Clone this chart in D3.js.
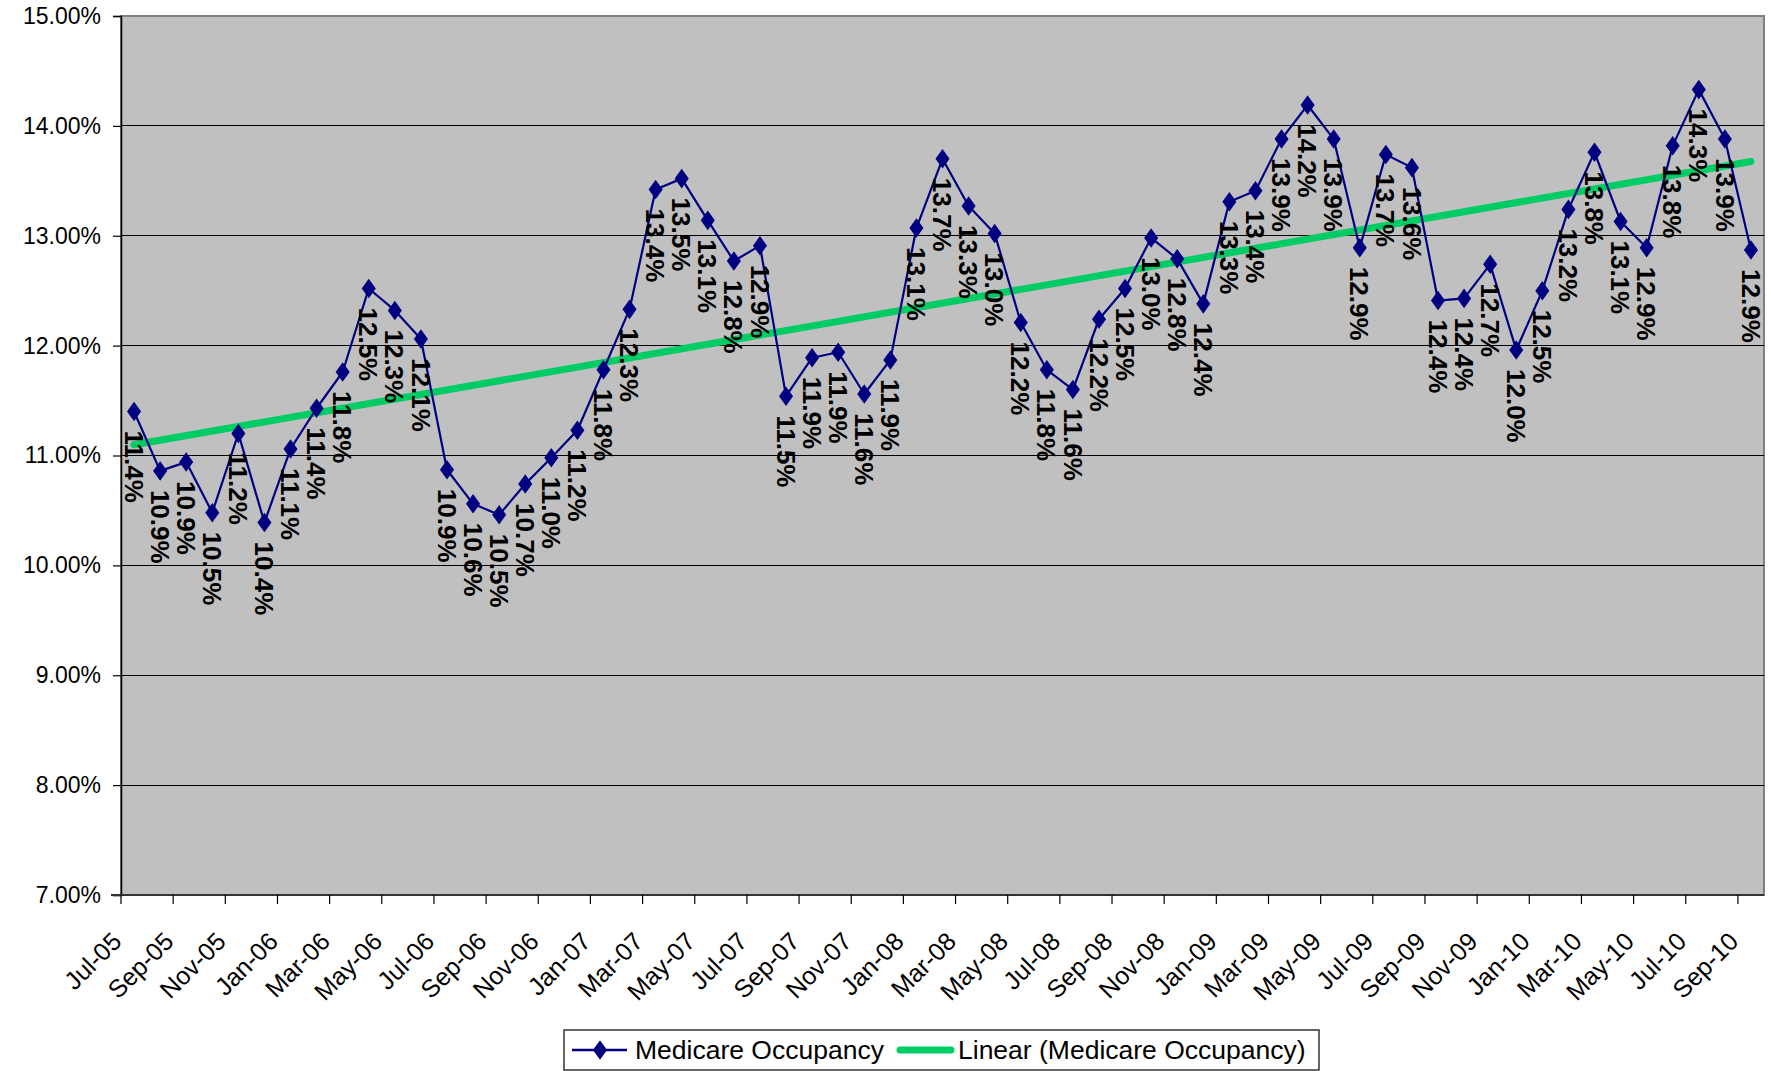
<!DOCTYPE html>
<html>
<head>
<meta charset="utf-8">
<script src="https://cdn.jsdelivr.net/npm/d3@7"></script>
<style>
  html, body { margin: 0; padding: 0; background: #ffffff; }
  svg { display: block; font-family: "Liberation Sans", Arial, sans-serif; }
</style>
</head>
<body>
<svg id="chart" width="1771" height="1071"></svg>
<script>
// ---- data ----
const months = [
  "Jul-05","Aug-05","Sep-05","Oct-05","Nov-05","Dec-05",
  "Jan-06","Feb-06","Mar-06","Apr-06","May-06","Jun-06","Jul-06","Aug-06","Sep-06","Oct-06","Nov-06","Dec-06",
  "Jan-07","Feb-07","Mar-07","Apr-07","May-07","Jun-07","Jul-07","Aug-07","Sep-07","Oct-07","Nov-07","Dec-07",
  "Jan-08","Feb-08","Mar-08","Apr-08","May-08","Jun-08","Jul-08","Aug-08","Sep-08","Oct-08","Nov-08","Dec-08",
  "Jan-09","Feb-09","Mar-09","Apr-09","May-09","Jun-09","Jul-09","Aug-09","Sep-09","Oct-09","Nov-09","Dec-09",
  "Jan-10","Feb-10","Mar-10","Apr-10","May-10","Jun-10","Jul-10","Aug-10","Sep-10"
];
const occupancy = [
  11.40,10.86,10.94,10.48,11.20,10.39,
  11.06,11.43,11.76,12.52,12.32,12.06,10.87,10.56,10.46,10.74,10.98,11.23,
  11.78,12.33,13.42,13.52,13.14,12.77,12.91,11.54,11.89,11.94,11.56,11.87,
  13.07,13.70,13.27,13.02,12.21,11.78,11.60,12.24,12.52,12.98,12.79,12.38,
  13.31,13.41,13.88,14.19,13.88,12.89,13.74,13.62,12.41,12.43,12.74,11.96,
  12.50,13.24,13.76,13.13,12.89,13.82,14.33,13.88,12.87
];
const tickLabels = months.filter((m, i) => i % 2 === 0);
const yTicks = [7, 8, 9, 10, 11, 12, 13, 14, 15];
const seriesName = "Medicare Occupancy";
const trendName = "Linear (Medicare Occupancy)";

// ---- layout ----
const svg = d3.select("#chart");
const plot = { left: 121, right: 1764, top: 16, bottom: 895 };
const lineColor = "#000080";
const trendColor = "#00CC66";

const x = d3.scaleBand().domain(months).range([plot.left, plot.right]).padding(0);
const y = d3.scaleLinear().domain([7, 15]).range([plot.bottom, plot.top]);
const cx = m => x(m) + x.bandwidth() / 2;

// background
svg.append("rect").attr("width", 1771).attr("height", 1071).attr("fill", "#ffffff");
svg.append("rect")
  .attr("x", plot.left).attr("y", plot.top)
  .attr("width", plot.right - plot.left).attr("height", plot.bottom - plot.top)
  .attr("fill", "#C0C0C0").attr("stroke", "#808080").attr("stroke-width", 2);

// gridlines
svg.append("g").selectAll("line").data(yTicks.filter(t => t > 7 && t < 15)).join("line")
  .attr("x1", plot.left).attr("x2", plot.right)
  .attr("y1", d => y(d)).attr("y2", d => y(d))
  .attr("stroke", "#000").attr("stroke-width", 1.2).attr("shape-rendering", "crispEdges");

// y axis
const yAxis = d3.axisLeft(y).tickValues(yTicks).tickSize(8).tickPadding(12)
  .tickFormat(d => d.toFixed(2) + "%");
const gy = svg.append("g").attr("transform", `translate(${plot.left},0)`).call(yAxis);
gy.select(".domain").attr("stroke", "#000").attr("stroke-width", 1.5);
gy.selectAll(".tick line").attr("stroke", "#000").attr("stroke-width", 1.2);
gy.selectAll(".tick text").attr("font-size", 23).attr("fill", "#000")
  .attr("font-family", "Liberation Sans, Arial, sans-serif");

// x axis (ticks at category boundaries every 2 months)
const gx = svg.append("g");
gx.append("line").attr("x1", plot.left - 10).attr("x2", plot.right)
  .attr("y1", plot.bottom).attr("y2", plot.bottom)
  .attr("stroke", "#333").attr("stroke-width", 2);
gx.selectAll("line.tk").data(tickLabels).join("line").attr("class", "tk")
  .attr("x1", d => x(d)).attr("x2", d => x(d))
  .attr("y1", plot.bottom).attr("y2", plot.bottom + 9)
  .attr("stroke", "#000").attr("stroke-width", 1.2);
gx.selectAll("text").data(tickLabels).join("text")
  .attr("transform", d => `translate(${x(d) + 2},${943}) rotate(-45)`)
  .attr("text-anchor", "end")
  .attr("font-size", 25).attr("fill", "#000")
  .text(d => d);

// trend line (least squares over the series)
const n = occupancy.length;
const xs = d3.range(n);
const mx = d3.mean(xs), my = d3.mean(occupancy);
const slope = d3.sum(xs, i => (i - mx) * (occupancy[i] - my)) / d3.sum(xs, i => (i - mx) ** 2);
const icpt = my - slope * mx;
svg.append("line")
  .attr("x1", cx(months[0])).attr("y1", y(icpt))
  .attr("x2", cx(months[n - 1])).attr("y2", y(icpt + slope * (n - 1)))
  .attr("stroke", trendColor).attr("stroke-width", 7).attr("stroke-linecap", "round");

// series line
const line = d3.line().x((d, i) => cx(months[i])).y(d => y(d));
svg.append("path").datum(occupancy).attr("d", line)
  .attr("fill", "none").attr("stroke", lineColor).attr("stroke-width", 2.2)
  .attr("stroke-linejoin", "round");

// markers
const diamond = d3.symbol().type(d3.symbolDiamond).size(110);
svg.append("g").selectAll("path").data(occupancy).join("path")
  .attr("d", diamond)
  .attr("transform", (d, i) => `translate(${cx(months[i])},${y(d)}) scale(1.25,1)`)
  .attr("fill", lineColor);

// data labels
const fmt = d => (d).toFixed(1) + "%";
svg.append("g").selectAll("text").data(occupancy).join("text")
  .attr("transform", (d, i) => `translate(${cx(months[i])},${y(d) + 19}) rotate(90)`)
  .attr("dy", "0.36em")
  .attr("text-anchor", "start")
  .attr("font-size", 26).attr("font-weight", "bold").attr("fill", "#000")
  .text(d => fmt(d));

// legend
const lg = svg.append("g");
lg.append("rect").attr("x", 564).attr("y", 1030).attr("width", 755).attr("height", 40)
  .attr("fill", "#fff").attr("stroke", "#333").attr("stroke-width", 1.5);
lg.append("line").attr("x1", 572).attr("x2", 627).attr("y1", 1050).attr("y2", 1050)
  .attr("stroke", lineColor).attr("stroke-width", 2.5);
lg.append("path").attr("d", diamond).attr("transform", "translate(600,1050) scale(1.25,1)")
  .attr("fill", lineColor);
lg.append("text").attr("x", 635).attr("y", 1059).attr("font-size", 26.5).attr("fill", "#000")
  .text(seriesName);
lg.append("line").attr("x1", 900).attr("x2", 951).attr("y1", 1050).attr("y2", 1050)
  .attr("stroke", trendColor).attr("stroke-width", 7).attr("stroke-linecap", "round");
lg.append("text").attr("x", 958).attr("y", 1059).attr("font-size", 26.5).attr("fill", "#000")
  .text(trendName);
</script>
</body>
</html>
